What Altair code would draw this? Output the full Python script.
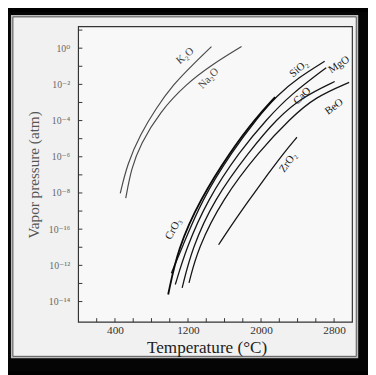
import altair as alt
import pandas as pd

# ---- data: temperature (deg C) and log10 vapor pressure (atm)
K2O_T = [458, 536, 678, 846, 1039, 1250, 1457]
K2O_logP = [-8.02, -6.38, -4.77, -3.35, -2.00, -0.92, 0.09]
Na2O_T = [518, 579, 678, 893, 1179, 1465, 1786]
Na2O_logP = [-8.29, -6.65, -5.31, -3.51, -1.98, -0.90, 0.09]
CrO3_T = [983, 1088, 1329, 1668, 1939, 2154]
CrO3_logP = [-13.61, -11.08, -8.38, -5.68, -3.88, -2.70]
SiO2_T = [1018, 1130, 1350, 1688, 1955, 2175, 2411, 2697]
SiO2_logP = [-12.43, -11.08, -8.38, -5.68, -3.88, -2.61, -1.62, -0.72]
MgO_T = [1061, 1179, 1411, 1768, 2071, 2314, 2714]
MgO_logP = [-13.06, -11.08, -8.38, -5.68, -3.88, -2.61, -1.08]
CaO_T = [1136, 1243, 1482, 1875, 2175, 2454, 2807]
CaO_logP = [-13.24, -11.08, -8.38, -5.68, -3.88, -2.70, -1.84]
BeO_T = [1211, 1307, 1572, 1982, 2322, 2593, 2965]
BeO_logP = [-12.97, -11.08, -8.38, -5.68, -3.88, -2.70, -1.89]
ZrO2_T = [1535, 1704, 1886, 2073, 2250, 2393]
ZrO2_logP = [-10.86, -9.57, -8.27, -6.97, -5.78, -4.92]

label_text = ["K₂O", "Na₂O", "SiO₂", "MgO", "CaO", "BeO", "ZrO₂", "CrO₃"]
label_T = [1170, 1427, 2415, 2855, 2452, 2801, 2297, 1041]
label_logP = [-0.43, -1.68, -1.14, -0.92, -2.65, -3.24, -6.32, -10.0]

x_tick_values = [200, 400, 600, 800, 1000, 1200, 1400, 1600, 1800, 2000, 2200, 2400, 2600, 2800]
x_label_values = [400, 1200, 2000, 2800]
y_tick_values = [-14, -13, -12, -11, -10, -9, -8, -7, -6, -5, -4, -3, -2, -1, 0, 1]
y_label_values = [0, -2, -4, -6, -8, -10, -12, -14]
y_label_text = ["10⁰", "10⁻²", "10⁻⁴", "10⁻⁶", "10⁻⁸", "10⁻¹⁶", "10⁻¹²", "10⁻¹⁴"]

# ---- build tables
series = {
    "K2O": (K2O_T, K2O_logP), "Na2O": (Na2O_T, Na2O_logP),
    "SiO2": (SiO2_T, SiO2_logP), "CrO3": (CrO3_T, CrO3_logP),
    "MgO": (MgO_T, MgO_logP), "CaO": (CaO_T, CaO_logP),
    "BeO": (BeO_T, BeO_logP), "ZrO2": (ZrO2_T, ZrO2_logP),
}
rows = []
for name, (ts, ls) in series.items():
    for i, (t, l) in enumerate(zip(ts, ls)):
        rows.append({"oxide": name, "T": t, "logP": l, "i": i})
df = pd.DataFrame(rows)

label_angle = {"K₂O": 320, "Na₂O": 314, "SiO₂": 320, "MgO": 326, "CaO": 316,
               "BeO": 324, "ZrO₂": 305, "CrO₃": 298}
labels = pd.DataFrame({"text": label_text, "T": label_T, "logP": label_logP})
labels["angle"] = labels["text"].map(label_angle)

W, H = 280, 302
FONT = "Liberation Serif, DejaVu Serif, serif"
CURVE = "basis"

xs = alt.Scale(domain=[0, 3000], nice=False, zero=False)
ys = alt.Scale(domain=[-15.135, 1.189], nice=False, zero=False)

expr = " : ".join(
    f"datum.value == {v} ? '{t}'" for v, t in zip(y_label_values, y_label_text)
) + " : ''"

xaxis = alt.Axis(values=x_label_values, format="d", ticks=False, domain=False, grid=False,
                 labelFont=FONT, labelFontSize=11.5, labelColor="#333",
                 labelPadding=3, title="Temperature (°C)", titleFont=FONT,
                 titleFontSize=17.5, titleFontWeight="normal", titleColor="#222",
                 titlePadding=3, titleX=131, titleAlign="center", zindex=2)
yaxis = alt.Axis(values=y_label_values, labelExpr=expr, ticks=False, domain=False,
                 grid=False, labelFont=FONT, labelFontSize=10, labelColor="#666",
                 labelPadding=9, title="Vapor pressure (atm)", titleFont=FONT,
                 titleFontSize=15.5, titleFontWeight="normal", titleColor="#555",
                 titlePadding=7, zindex=2)

one = pd.DataFrame({"a": [0]})

bg_black = alt.Chart(one).mark_rect(color="#050505").encode(
    x=alt.value(-72), x2=alt.value(296), y=alt.value(-15), y2=alt.value(352))
bg_frame = alt.Chart(one).mark_rect(color="#bdbdbd").encode(
    x=alt.value(-69), x2=alt.value(286), y=alt.value(-12), y2=alt.value(339))
bg_inner = alt.Chart(one).mark_rect(color="#f1f1f1", stroke="#555", strokeWidth=1).encode(
    x=alt.value(-67), x2=alt.value(284), y=alt.value(-10), y2=alt.value(337))
plot_bg = alt.Chart(one).mark_rect(color="#f8f8f8").encode(
    x=alt.value(0), x2=alt.value(W), y=alt.value(0), y2=alt.value(H))

base = alt.Chart(df)
upper = base.transform_filter(
    alt.FieldOneOfPredicate(field="oxide", oneOf=["K2O", "Na2O"])
).mark_line(color="#4a4a4a", strokeWidth=1.2, interpolate=CURVE).encode(
    x=alt.X("T:Q", scale=xs, axis=xaxis),
    y=alt.Y("logP:Q", scale=ys, axis=yaxis),
    detail="oxide:N", order="i:Q")
lower = base.transform_filter(
    alt.FieldOneOfPredicate(field="oxide", oneOf=["SiO2", "MgO", "CaO", "BeO", "ZrO2"])
).mark_line(color="#151515", strokeWidth=1.3, interpolate=CURVE).encode(
    x=alt.X("T:Q", scale=xs), y=alt.Y("logP:Q", scale=ys),
    detail="oxide:N", order="i:Q")
cro3 = base.transform_filter(alt.datum.oxide == "CrO3").mark_line(
    color="#0a0a0a", strokeWidth=1.9, interpolate=CURVE).encode(
    x=alt.X("T:Q", scale=xs), y=alt.Y("logP:Q", scale=ys), order="i:Q")

xt = alt.Chart(pd.DataFrame({"T": x_tick_values})).mark_rule(color="#333", strokeWidth=1).encode(
    x=alt.X("T:Q", scale=xs), y=alt.value(H), y2=alt.value(H - 4))
yt = alt.Chart(pd.DataFrame({"logP": y_tick_values})).mark_rule(color="#333", strokeWidth=1).encode(
    y=alt.Y("logP:Q", scale=ys), x=alt.value(0), x2=alt.value(4))

frame = alt.Chart(one).mark_rect(fillOpacity=0, stroke="#333", strokeWidth=1.2).encode(
    x=alt.value(0), x2=alt.value(W), y=alt.value(0), y2=alt.value(H))

lab_grey = alt.Chart(labels).transform_filter(
    alt.FieldOneOfPredicate(field="text", oneOf=["K₂O", "Na₂O"])
).mark_text(font=FONT, fontSize=11, color="#444", align="center", baseline="middle").encode(
    x=alt.X("T:Q", scale=xs), y=alt.Y("logP:Q", scale=ys), text="text:N",
    angle=alt.Angle("angle:Q", scale=None))
lab_black = alt.Chart(labels).transform_filter(
    alt.FieldOneOfPredicate(field="text", oneOf=["SiO₂", "MgO", "CaO", "BeO", "ZrO₂", "CrO₃"])
).mark_text(font=FONT, fontSize=11, color="#1a1a1a", align="center", baseline="middle").encode(
    x=alt.X("T:Q", scale=xs), y=alt.Y("logP:Q", scale=ys), text="text:N",
    angle=alt.Angle("angle:Q", scale=None))

chart = alt.layer(
    bg_black, bg_frame, bg_inner, plot_bg, upper, lower, cro3, xt, yt, frame, lab_grey, lab_black
).properties(width=W, height=H, padding=0, background="#000").configure_view(stroke=None)

chart.save("out.html", embed_options={"renderer": "svg", "actions": False})
